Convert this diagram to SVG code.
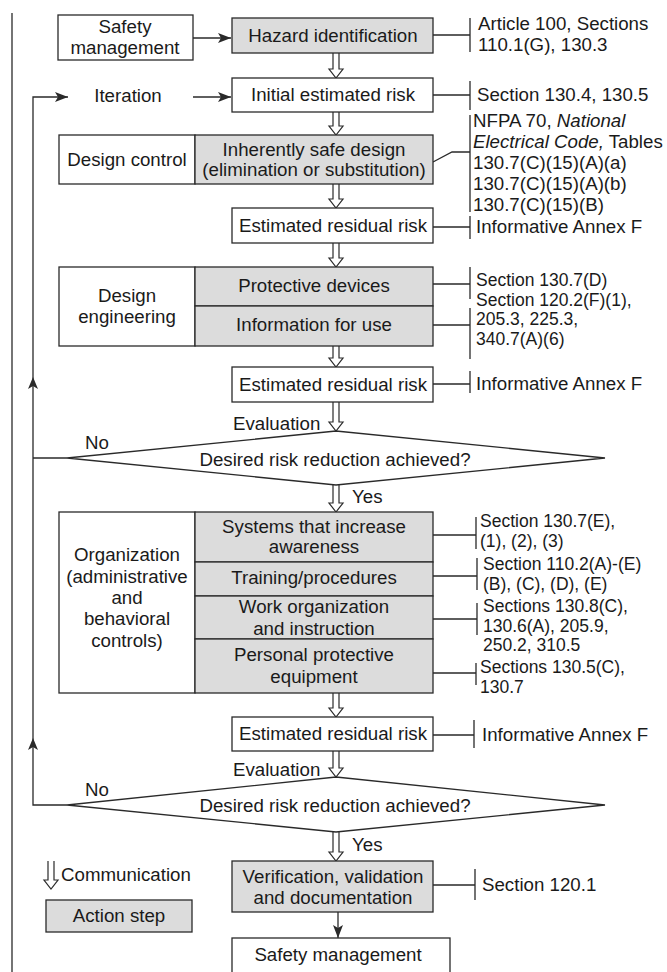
<svg xmlns="http://www.w3.org/2000/svg" width="667" height="972" viewBox="0 0 667 972">
<style>
.box{fill:#fff;stroke:#2a2a2a;stroke-width:1.3}
.act{fill:#dcdcdc;stroke:#2a2a2a;stroke-width:1.3}
.ln{fill:none;stroke:#2a2a2a;stroke-width:1.3}
.ho{fill:#fff;stroke:#2a2a2a;stroke-width:1.2}
.t{font-family:"Liberation Sans",Arial,Helvetica,sans-serif;font-size:18.7px;fill:#1a1a1a}
.s{font-size:17.5px}
.c{text-anchor:middle}
.i{font-style:italic}
</style>
<defs>
<marker id="ah" viewBox="0 0 13 10" refX="13" refY="5" markerWidth="13" markerHeight="10" markerUnits="userSpaceOnUse" orient="auto">
<path d="M0,0 L13,5 L0,10 L3,5 Z" fill="#2a2a2a"/>
</marker>
</defs>

<g id="connectors">
<path class="ln" d="M12,13 V972"/>
<path class="ln" d="M67,805 H33 V97 H68" marker-end="url(#ah)"/>
<path class="ln" d="M67,458 H33"/>
<path d="M33,377 L38,389 L33,386 L28,389 Z" fill="#2a2a2a"/>
<path d="M33,738 L38,750 L33,747 L28,750 Z" fill="#2a2a2a"/>
<path class="ln" d="M193,38 H231" marker-end="url(#ah)"/>
<path class="ln" d="M193,97 H231" marker-end="url(#ah)"/>
<path class="ln" d="M338,912 V938" marker-end="url(#ah)"/>
<path class="ho" d="M333,53 V69 H329 L336,78 L343,69 H339 V53"/>
<path class="ho" d="M333,112 V126 H329 L336,135 L343,126 H339 V112"/>
<path class="ho" d="M333,184 V199 H329 L336,208 L343,199 H339 V184"/>
<path class="ho" d="M333,243 V258 H329 L336,267 L343,258 H339 V243"/>
<path class="ho" d="M333,346 V358 H329 L336,367 L343,358 H339 V346"/>
<path class="ho" d="M333,402 V422 H329 L336,431 L343,422 H339 V402"/>
<path class="ho" d="M333,485 V503 H329 L336,512 L343,503 H339 V485"/>
<path class="ho" d="M333,693 V708 H329 L336,717 L343,708 H339 V693"/>
<path class="ho" d="M333,751 V768 H329 L336,777 L343,768 H339 V751"/>
<path class="ho" d="M333,832 V852 H329 L336,861 L343,852 H339 V832"/>
<path class="ln" d="M433,35 H470 M470,18 V52"/>
<path class="ln" d="M433,95 H470 M470,81 V110"/>
<path class="ln" d="M433,162 L452,152 H470 M470,115 V212"/>
<path class="ln" d="M433,227 H470 M470,216 V239"/>
<path class="ln" d="M433,284 H470 M470,267 V299"/>
<path class="ln" d="M433,325 H470 M470,308 V359"/>
<path class="ln" d="M433,384 H470 M470,371 V393"/>
<path class="ln" d="M433,535 H476 M476,517 V549"/>
<path class="ln" d="M433,576 H477 M477,558 V590"/>
<path class="ln" d="M433,619 H477 M477,603 V635"/>
<path class="ln" d="M433,673 H476 M476,663 V685"/>
<path class="ln" d="M433,735 H474 M474,720 V748"/>
<path class="ln" d="M433,885 H475 M475,869 V900"/>
</g>

<g id="safety-management-top">
<rect class="box" x="58" y="15" width="135" height="45"/>
<text class="t c" x="125" y="33">Safety</text>
<text class="t c" x="125" y="54">management</text>
</g>

<g id="hazard-identification">
<rect class="act" x="232" y="18" width="201" height="35"/>
<text class="t c" x="333" y="42">Hazard identification</text>
</g>
<g id="ref-hazard">
<text class="t" x="478" y="30">Article 100, Sections</text>
<text class="t" x="478" y="51">110.1(G), 130.3</text>
</g>

<g id="iteration">
<text class="t c" x="128" y="102">Iteration</text>
</g>

<g id="initial-risk">
<rect class="box" x="232" y="78" width="201" height="34"/>
<text class="t c" x="333" y="101">Initial estimated risk</text>
</g>
<g id="ref-initial">
<text class="t" x="477" y="101">Section 130.4, 130.5</text>
</g>

<g id="design-control">
<rect class="box" x="59" y="135" width="136" height="49"/>
<rect class="act" x="195" y="135" width="238" height="49"/>
<text class="t c" x="127" y="166">Design control</text>
<text class="t c" x="314" y="156">Inherently safe design</text>
<text class="t c" x="314" y="176">(elimination or substitution)</text>
</g>
<g id="ref-design-control">
<text class="t" x="473" y="127">NFPA 70, <tspan class="i">National</tspan></text>
<text class="t" x="473" y="148"><tspan class="i">Electrical Code,</tspan> Tables</text>
<text class="t" x="473" y="169">130.7(C)(15)(A)(a)</text>
<text class="t" x="473" y="190">130.7(C)(15)(A)(b)</text>
<text class="t" x="473" y="211">130.7(C)(15)(B)</text>
</g>

<g id="residual-risk-1">
<rect class="box" x="232" y="208" width="201" height="35"/>
<text class="t c" x="333" y="232">Estimated residual risk</text>
</g>
<g id="ref-residual-1">
<text class="t" x="476" y="233">Informative Annex F</text>
</g>

<g id="design-engineering">
<rect class="box" x="59" y="267" width="136" height="79"/>
<rect class="act" x="195" y="267" width="238" height="39"/>
<rect class="act" x="195" y="306" width="238" height="40"/>
<text class="t c" x="127" y="302">Design</text>
<text class="t c" x="127" y="323">engineering</text>
<text class="t c" x="314" y="292">Protective devices</text>
<text class="t c" x="314" y="331">Information for use</text>
</g>
<g id="ref-design-engineering">
<text class="t s" x="476" y="286">Section 130.7(D)</text>
<text class="t s" x="476" y="305.5">Section 120.2(F)(1),</text>
<text class="t s" x="476" y="325">205.3, 225.3,</text>
<text class="t s" x="476" y="344.5">340.7(A)(6)</text>
</g>

<g id="residual-risk-2">
<rect class="box" x="232" y="367" width="201" height="35"/>
<text class="t c" x="333" y="391">Estimated residual risk</text>
</g>
<g id="ref-residual-2">
<text class="t" x="476" y="390">Informative Annex F</text>
</g>

<g id="decision-1">
<text class="t" x="233" y="430">Evaluation</text>
<path class="box" d="M67,458 L336,431 L605,458 L336,485 Z"/>
<text class="t c" x="335" y="466">Desired risk reduction achieved?</text>
<text class="t" x="85" y="449">No</text>
<text class="t" x="352" y="503">Yes</text>
</g>

<g id="organization">
<rect class="box" x="59" y="512" width="136" height="181"/>
<rect class="act" x="195" y="512" width="238" height="50"/>
<rect class="act" x="195" y="562" width="238" height="34"/>
<rect class="act" x="195" y="596" width="238" height="43"/>
<rect class="act" x="195" y="639" width="238" height="54"/>
<text class="t c" x="127" y="561">Organization</text>
<text class="t c" x="127" y="583">(administrative</text>
<text class="t c" x="127" y="604">and</text>
<text class="t c" x="127" y="625">behavioral</text>
<text class="t c" x="127" y="647">controls)</text>
<text class="t c" x="314" y="533">Systems that increase</text>
<text class="t c" x="314" y="553">awareness</text>
<text class="t c" x="314" y="584">Training/procedures</text>
<text class="t c" x="314" y="613">Work organization</text>
<text class="t c" x="314" y="635">and instruction</text>
<text class="t c" x="314" y="661">Personal protective</text>
<text class="t c" x="314" y="683">equipment</text>
</g>
<g id="ref-organization">
<text class="t s" x="480" y="527">Section 130.7(E),</text>
<text class="t s" x="480" y="546.5">(1), (2), (3)</text>
<text class="t s" x="483" y="570">Section 110.2(A)-(E)</text>
<text class="t s" x="483" y="589.5">(B), (C), (D), (E)</text>
<text class="t s" x="483" y="612">Sections 130.8(C),</text>
<text class="t s" x="483" y="631.5">130.6(A), 205.9,</text>
<text class="t s" x="483" y="651">250.2, 310.5</text>
<text class="t s" x="480" y="673">Sections 130.5(C),</text>
<text class="t s" x="480" y="692.5">130.7</text>
</g>

<g id="residual-risk-3">
<rect class="box" x="232" y="717" width="201" height="34"/>
<text class="t c" x="333" y="740">Estimated residual risk</text>
</g>
<g id="ref-residual-3">
<text class="t" x="482" y="741">Informative Annex F</text>
</g>

<g id="decision-2">
<text class="t" x="233" y="776">Evaluation</text>
<path class="box" d="M67,805 L336,777 L605,805 L336,832 Z"/>
<text class="t c" x="335" y="812">Desired risk reduction achieved?</text>
<text class="t" x="85" y="796">No</text>
<text class="t" x="352" y="851">Yes</text>
</g>

<g id="verification">
<rect class="act" x="232" y="861" width="201" height="51"/>
<text class="t c" x="333" y="883">Verification, validation</text>
<text class="t c" x="333" y="904">and documentation</text>
</g>
<g id="ref-verification">
<text class="t" x="482" y="891">Section 120.1</text>
</g>

<g id="safety-management-bottom">
<rect class="box" x="232" y="938" width="218" height="50"/>
<text class="t c" x="338" y="961">Safety management</text>
</g>

<g id="legend">
<path class="ho" d="M48,861 V880 H44 L51,889 L58,880 H54 V861"/>
<text class="t" x="61" y="881">Communication</text>
<rect class="act" x="46" y="900" width="146" height="32"/>
<text class="t c" x="119" y="922">Action step</text>
</g>
</svg>
